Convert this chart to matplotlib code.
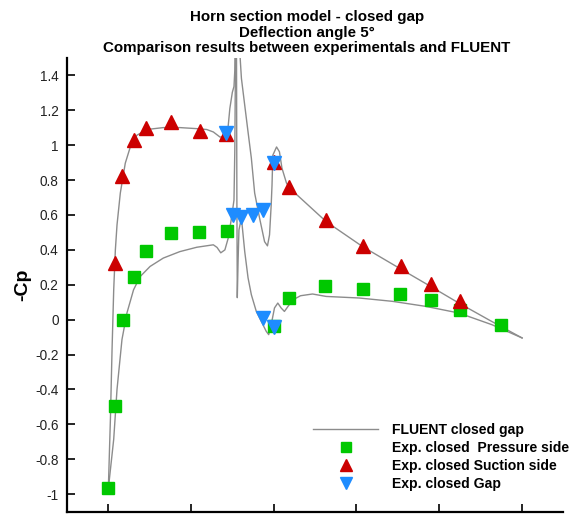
import matplotlib
matplotlib.use("Agg")
import matplotlib.pyplot as plt
import numpy as np

plt.rcParams['font.family'] = ['Liberation Sans', 'DejaVu Sans']

# experimental -Cp, x/c positions
press_x = [0.0, 0.017, 0.035, 0.061, 0.092, 0.151, 0.220, 0.287,
           0.402, 0.437, 0.525, 0.617, 0.706, 0.781, 0.851, 0.951]
press_cp = [-0.967, -0.495, -0.004, 0.244, 0.394, 0.499, 0.503, 0.509,
            -0.038, 0.124, 0.190, 0.175, 0.147, 0.110, 0.057, -0.033]

suct_x = [0.017, 0.034, 0.061, 0.092, 0.151, 0.222, 0.284,
          0.402, 0.437, 0.527, 0.617, 0.707, 0.781, 0.851]
suct_cp = [0.324, 0.823, 1.029, 1.099, 1.133, 1.082, 1.067,
           0.901, 0.762, 0.571, 0.425, 0.305, 0.204, 0.105]

gap_x = [0.284, 0.302, 0.322, 0.350, 0.374, 0.402, 0.374, 0.401]
gap_cp = [1.069, 0.600, 0.590, 0.600, 0.629, 0.899, 0.010, -0.044]

# FLUENT closed gap, traced as four pieces of the same curve
fl_suct_front_x = [0.0, 0.005, 0.009, 0.013, 0.017, 0.021, 0.029, 0.041, 0.053,
                   0.069, 0.093, 0.133, 0.173, 0.214, 0.238, 0.254, 0.270,
                   0.282, 0.289, 0.294, 0.300, 0.304, 0.306, 0.307]
fl_suct_front_cp = [-0.97, -0.571, -0.171, 0.171, 0.400, 0.543, 0.726, 0.897, 0.989,
                    1.057, 1.090, 1.101, 1.101, 1.095, 1.090, 1.076, 1.047,
                    1.046, 1.086, 1.211, 1.303, 1.337, 1.429, 1.6]

fl_suct_aft_x = [0.318, 0.319, 0.322, 0.330, 0.338, 0.346, 0.354, 0.366, 0.378,
                 0.385, 0.390, 0.394, 0.396, 0.398, 0.407, 0.414, 0.420, 0.431,
                 0.439, 0.527, 0.615, 0.704, 0.780, 0.848, 0.928, 1.001]
fl_suct_aft_cp = [1.6, 1.497, 1.383, 1.229, 1.076, 0.926, 0.726, 0.581, 0.447,
                  0.423, 0.486, 0.657, 0.771, 0.943, 0.990, 0.962, 0.869, 0.783,
                  0.753, 0.562, 0.419, 0.295, 0.190, 0.095, -0.011, -0.105]

fl_press_front_x = [0.0, 0.013, 0.021, 0.033, 0.045, 0.061, 0.077, 0.101, 0.133,
                    0.173, 0.214, 0.254, 0.263, 0.272, 0.282, 0.290, 0.298,
                    0.304, 0.306, 0.308]
fl_press_front_cp = [-0.97, -0.686, -0.400, -0.114, 0.038, 0.171, 0.247, 0.305, 0.353,
                     0.390, 0.415, 0.429, 0.414, 0.383, 0.400, 0.467, 0.583,
                     0.686, 0.971, 1.6]

fl_press_aft_x = [0.310, 0.311, 0.312, 0.314, 0.316, 0.322, 0.330, 0.338, 0.346,
                  0.358, 0.370, 0.382, 0.388, 0.394, 0.402, 0.410, 0.418, 0.426,
                  0.436, 0.447, 0.465, 0.494, 0.527, 0.607, 0.687, 0.768, 0.848,
                  0.928, 1.001]
fl_press_aft_cp = [1.6, 0.686, 0.126, 0.343, 0.514, 0.583, 0.390, 0.240, 0.143,
                   0.047, -0.010, -0.067, -0.086, -0.029, 0.067, 0.095, 0.067, 0.047,
                   0.080, 0.114, 0.137, 0.147, 0.133, 0.124, 0.105, 0.076, 0.038,
                   -0.029, -0.105]

line_col = '#8c8c8c'
green = '#00c800'
red = '#cc0000'
blue = '#1e8cff'

fig = plt.figure(figsize=(5.87, 5.17), dpi=100)
ax = fig.add_axes([67 / 587, 1 - 511.5 / 517, 496 / 587, 453.5 / 517])

fl, = ax.plot(fl_suct_front_x, fl_suct_front_cp, color=line_col, lw=1.0,
              label='FLUENT closed gap')
ax.plot(fl_suct_aft_x, fl_suct_aft_cp, color=line_col, lw=1.0)
ax.plot(fl_press_front_x, fl_press_front_cp, color=line_col, lw=1.0)
ax.plot(fl_press_aft_x, fl_press_aft_cp, color=line_col, lw=1.0)

ps, = ax.plot(press_x, press_cp, 's', color=green, ms=8.5, mec=green,
              label='Exp. closed  Pressure side')
ss, = ax.plot(suct_x, suct_cp, '^', color=red, ms=9.5, mec=red,
              label='Exp. closed Suction side')
gs, = ax.plot(gap_x, gap_cp, 'v', color=blue, ms=9.5, mec=blue,
              label='Exp. closed Gap')

ax.set_xlim(-0.1, 1.1)
ax.set_ylim(-1.1, 1.5)
ax.set_xticks(np.arange(0, 1.01, 0.2))
ax.set_yticks(np.arange(-1.0, 1.41, 0.2))
ax.set_yticklabels(['-1', '-0.8', '-0.6', '-0.4', '-0.2', '0', '0.2', '0.4',
                    '0.6', '0.8', '1', '1.2', '1.4'])
ax.tick_params(direction='in', length=6, width=1.2, labelsize=9.8,
               labelcolor='#222222', pad=6)
ax.tick_params(axis='x', labelbottom=False)
for side in ['top', 'right']:
    ax.spines[side].set_visible(False)
for side in ['left', 'bottom']:
    ax.spines[side].set_linewidth(1.6)

ax.set_ylabel('-Cp', fontsize=14, fontweight='bold')
ax.yaxis.set_label_coords(-0.073, 0.5)

leg = ax.legend(handles=[fl, ps, ss, gs], loc='upper left',
                bbox_to_anchor=(0.496, 0.196), frameon=False,
                prop={'weight': 'bold', 'size': 10.1}, handlelength=4.65,
                handletextpad=1.0, labelspacing=0.3, borderpad=0,
                borderaxespad=0, markerscale=0.85)

titles = ['Horn section model - closed gap',
          'Deflection angle 5\u00b0',
          'Comparison results between experimentals and FLUENT']
for i, t in enumerate(titles):
    fig.text(307 / 587, 1 - (17 + 15.5 * i) / 517, t, ha='center', va='center',
             fontsize=10.9, fontweight='bold')

fig.savefig('out.png', dpi=100)
